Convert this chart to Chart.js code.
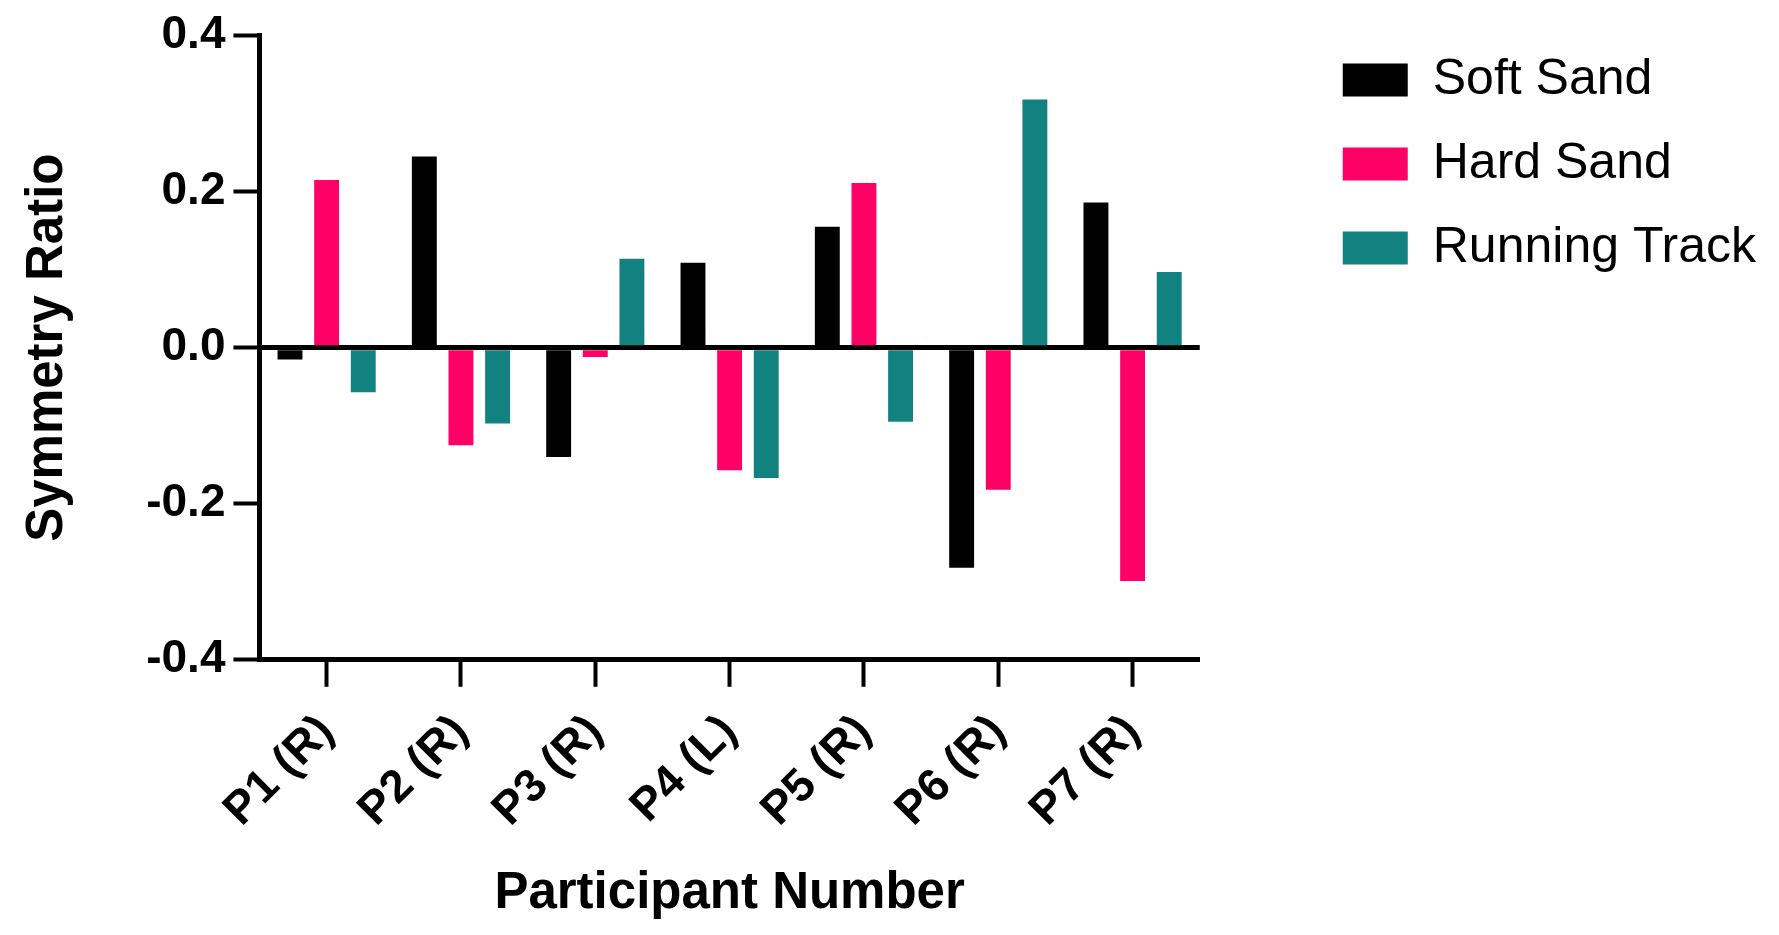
<!DOCTYPE html>
<html>
<head>
<meta charset="utf-8">
<script src="https://cdn.jsdelivr.net/npm/chart.js@4/dist/chart.umd.min.js"></script>
<style>
    html, body { margin: 0; padding: 0; background: #ffffff; }
    .chart-container { position: relative; width: 1779px; height: 935px; }
</style>
</head>
<body>
<div class="chart-container">
    <canvas id="symmetryChart"></canvas>
</div>

<script>
    // Values
    const participants = ['P1 (R)', 'P2 (R)', 'P3 (R)', 'P4 (L)', 'P5 (R)', 'P6 (R)', 'P7 (R)'];
    const softSand = [-0.015, 0.245, -0.140, 0.109, 0.155, -0.282, 0.186];
    const hardSand = [0.215, -0.125, -0.012, -0.157, 0.211, -0.182, -0.299];
    const runningTrack = [-0.057, -0.097, 0.114, -0.167, -0.095, 0.318, 0.097];
    const yTicks = [-0.4, -0.2, 0.0, 0.2, 0.4];

    const FONT = "'Liberation Sans', Arial, sans-serif";
    const LEGEND_GAP = 109;
    const LEGEND_DROP = 4;

    // push the legend to the right so the plot keeps its own width
    const legendPlace = {
        id: 'legendPlace',
        beforeInit(chart) {
            const fit = chart.legend.fit;
            chart.legend.fit = function () {
                fit.call(this);
                this.width += LEGEND_GAP;
            };
        },
        afterLayout(chart) {
            chart.legend.left += LEGEND_GAP;
            chart.legend.top += LEGEND_DROP;
            chart.legend.right = chart.width;   // legend is clipped to its box
        }
    };

    const ctx = document.getElementById('symmetryChart').getContext('2d');
    const chart = new Chart(ctx, {
        type: 'bar',
        data: {
            labels: participants,
            datasets: [
                { label: 'Soft Sand', data: softSand, backgroundColor: '#000000' },
                { label: 'Hard Sand', data: hardSand, backgroundColor: '#ff0066' },
                { label: 'Running Track', data: runningTrack, backgroundColor: '#128280' }
            ]
        },
        plugins: [legendPlace],
        options: {
            responsive: true,
            maintainAspectRatio: false,
            animation: false,
            barPercentage: 0.68,
            categoryPercentage: 0.818,
            layout: { padding: { top: 17, left: 15, right: 39, bottom: 10 } },
            plugins: {
                tooltip: { enabled: false },
                legend: {
                    position: 'right',
                    align: 'start',
                    labels: {
                        boxWidth: 65,
                        boxHeight: 33,
                        padding: 34,
                        color: '#000000',
                        font: { family: FONT, size: 50 }
                    }
                }
            },
            scales: {
                x: {
                    offset: true,
                    grid: {
                        offset: false,
                        drawOnChartArea: false,
                        drawTicks: true,
                        tickLength: 27,
                        tickWidth: 4,
                        tickColor: '#000000'
                    },
                    border: { display: true, color: '#000000', width: 5 },
                    ticks: {
                        color: '#000000',
                        minRotation: 45,
                        maxRotation: 45,
                        padding: 18,
                        font: { family: FONT, size: 46, weight: 'bold' }
                    },
                    title: {
                        display: true,
                        text: 'Participant Number',
                        color: '#000000',
                        padding: { top: 8, bottom: 0 },
                        font: { family: FONT, size: 51, weight: 'bold' }
                    }
                },
                y: {
                    min: -0.4,
                    max: 0.4,
                    z: 1,
                    afterBuildTicks: scale => {
                        scale.ticks = yTicks.map(v => ({ value: v }));
                    },
                    grid: {
                        color: c => (c.tick && c.tick.value === 0 ? '#000000' : 'rgba(0,0,0,0)'),
                        lineWidth: 5,
                        drawTicks: true,
                        tickLength: 26,
                        tickWidth: 4,
                        tickColor: '#000000'
                    },
                    border: { display: true, color: '#000000', width: 5 },
                    ticks: {
                        color: '#000000',
                        padding: 8,
                        font: { family: FONT, size: 46, weight: 'bold' },
                        callback: value => Number(value).toFixed(1)
                    },
                    title: {
                        display: true,
                        text: 'Symmetry Ratio',
                        color: '#000000',
                        padding: { top: 2, bottom: 60 },
                        font: { family: FONT, size: 51, weight: 'bold' }
                    }
                }
            }
        }
    });
</script>
</body>
</html>
